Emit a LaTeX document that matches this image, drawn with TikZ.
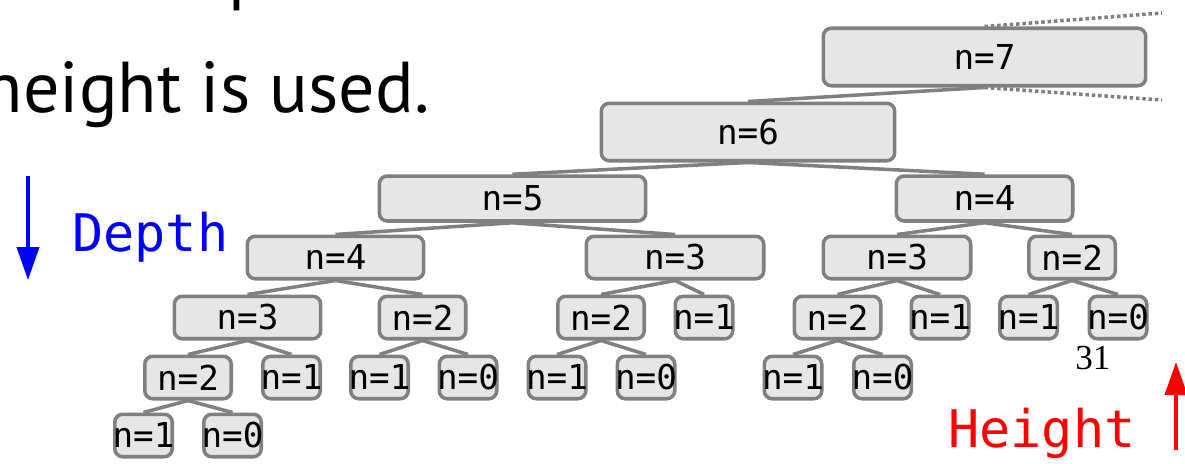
\documentclass[tikz,border=0pt]{standalone}
\usepackage{fontspec}
\usepackage{xcolor}
\usepackage{tikz}
\usetikzlibrary{arrows.meta,positioning}
\setmainfont{PT Sans}
\newfontfamily\treefont{DejaVu Sans Mono}
\newfontfamily\pagenumfont{Liberation Serif}
\definecolor{boxfill}{HTML}{E6E6E6}
\definecolor{boxline}{HTML}{808080}

\begin{document}
\begin{tikzpicture}[
    x=0.02cm, y=-0.02cm,
    tbox/.style={rectangle, rounded corners=0.16cm, draw=boxline, fill=boxfill, line width=2pt,
                 inner xsep=-1em, inner ysep=0pt, minimum height=0.85cm,
                 font=\treefont\fontsize{19.5}{21}\selectfont},
    bigbox/.style={tbox, minimum height=1.15cm},
    midbox/.style={tbox, minimum height=0.9cm},
    leafbox/.style={tbox, minimum width=1.15cm},
    pairbox/.style={tbox, minimum width=1.73cm},
    edge/.style={draw=boxline, line width=2pt},
    zoomline/.style={draw=boxline, line width=2pt, dash pattern=on 2pt off 1.6pt},
    axislabel/.style={font=\treefont\fontsize{29.5}{32}\selectfont},
]
    \useasboundingbox (0,0) rectangle (1185,463);

    % Slide text
    \node[anchor=base west, inner sep=0, font=\fontsize{41}{48}\selectfont] (prev) at (228,-4) {p};
    \node[anchor=base east, inner sep=0, font=\fontsize{41}{48}\selectfont] (title) at (430,112) {height is used.};

    % Level 0 and 1
    \node[bigbox, minimum width=6.45cm] (a7) at (984.5,57) {n=7};
    \node[bigbox, minimum width=5.87cm] (a6) at (748,132) {n=6};

    % Level 2
    \node[midbox, minimum width=5.33cm] (b5) at (512.5,198.5) {n=5};
    \node[midbox, minimum width=3.53cm] (b4) at (984.5,198.5) {n=4};

    % Level 3
    \node[tbox, minimum width=3.53cm] (c4) at (335.5,257.5) {n=4};
    \node[tbox, minimum width=3.55cm] (c3) at (675,257.5) {n=3};
    \node[tbox, minimum width=2.95cm] (c3r) at (897,257.5) {n=3};
    \node[pairbox] (c2r) at (1072,257.5) {n=2};

    % Level 4
    \node[tbox, minimum width=2.93cm] (d3) at (247.5,317.5) {n=3};
    \node[pairbox] (d2) at (422.5,317.5) {n=2};
    \node[pairbox] (d2b) at (601,317.5) {n=2};
    \node[leafbox] (d1b) at (704,317.5) {n=1};
    \node[pairbox] (d2c) at (837.5,317.5) {n=2};
    \node[leafbox] (d1c) at (940,317.5) {n=1};
    \node[leafbox] (d1d) at (1028.5,317.5) {n=1};
    \node[leafbox] (d0d) at (1118,317.5) {n=0};

    % Level 5
    \node[pairbox] (e2) at (188,377.5) {n=2};
    \node[leafbox] (e1) at (291.5,377.5) {n=1};
    \node[leafbox] (e1b) at (379.5,377.5) {n=1};
    \node[leafbox] (e0b) at (468,377.5) {n=0};
    \node[leafbox] (e1c) at (557,377.5) {n=1};
    \node[leafbox] (e0c) at (646,377.5) {n=0};
    \node[leafbox] (e1d) at (793,377.5) {n=1};
    \node[leafbox] (e0d) at (882.5,377.5) {n=0};

    % Level 6
    \node[leafbox] (f1) at (143.5,435.5) {n=1};
    \node[leafbox] (f0) at (232.5,435.5) {n=0};

    % Parent to child edges
    \foreach \p/\c in {a7/a6, a6/b5, a6/b4, b5/c4, b5/c3, b4/c3r, b4/c2r,
                       c4/d3, c4/d2, c3/d2b, c3/d1b, c3r/d2c, c3r/d1c, c2r/d1d, c2r/d0d,
                       d3/e2, d3/e1, d2/e1b, d2/e0b, d2b/e1c, d2b/e0c, d2c/e1d, d2c/e0d,
                       e2/f1, e2/f0}
        \draw[edge] (\p.south) -- (\c.north);

    % Zoom lines off the right edge
    \coordinate (ztop) at (1162,13);
    \coordinate (zbot) at (1162,100);
    \draw[zoomline] (a7.north) -- (ztop);
    \draw[zoomline] (a7.south) -- (zbot);

    % Depth / height arrows
    \coordinate (dstart) at (28,176);
    \coordinate (dend) at (28,280);
    \draw[blue, line width=0.08cm, -{Triangle[length=0.66cm, width=0.44cm]}] (dstart) -- (dend);
    \node[axislabel, blue, anchor=base west, inner sep=0] (depth) at (72,251) {Depth};

    \coordinate (hstart) at (1176,450);
    \coordinate (hend) at (1176,362);
    \draw[red, line width=0.08cm, -{Triangle[length=0.66cm, width=0.44cm]}] (hstart) -- (hend);
    \node[axislabel, red, anchor=base west, inner sep=0] (height) at (948,447) {Height};

    % Page number
    \node[anchor=base west, inner sep=0, font=\pagenumfont\fontsize{20}{22}\selectfont] (pagenum) at (1075,369) {31};
\end{tikzpicture}
\end{document}
